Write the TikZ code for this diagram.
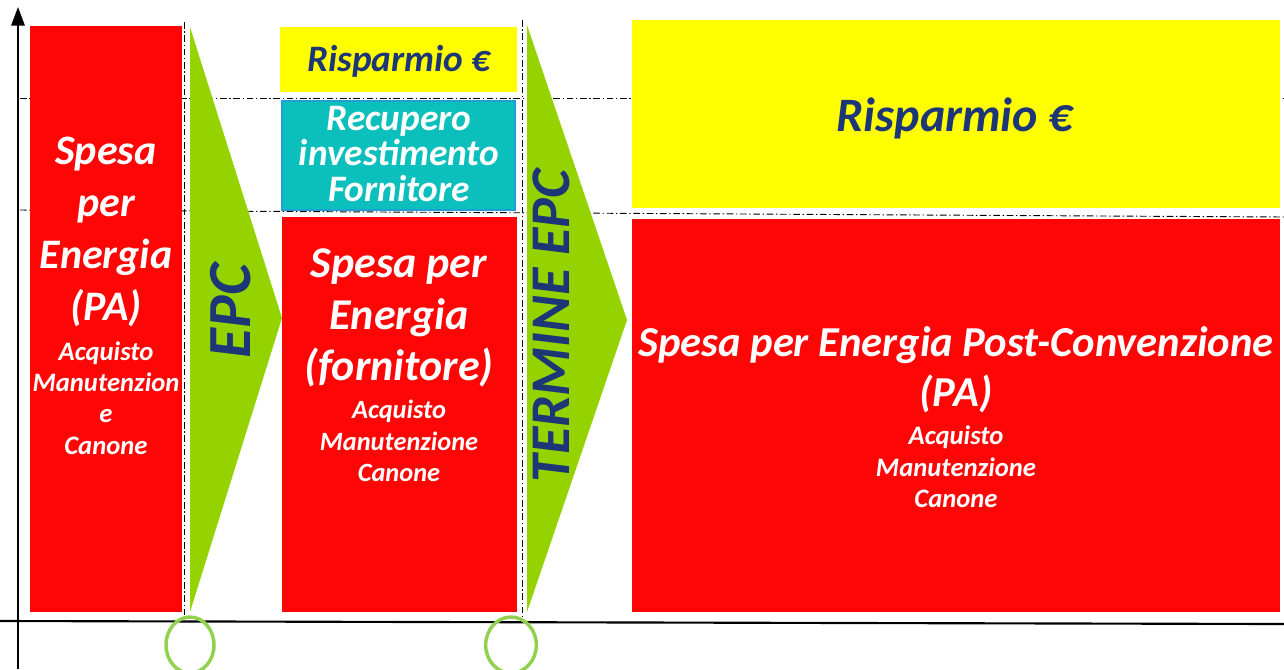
\documentclass[tikz,border=0pt]{standalone}
\usepackage{fontspec}
\setmainfont{Carlito}
\usetikzlibrary{fit,arrows.meta,shapes.geometric}
\definecolor{bred}{RGB}{255,6,6}
\definecolor{byel}{RGB}{255,255,0}
\definecolor{bcyan}{RGB}{11,191,188}
\definecolor{bcyanedge}{RGB}{30,160,215}
\definecolor{bgreen}{RGB}{148,211,0}
\definecolor{navy}{RGB}{28,54,120}
\definecolor{ring}{RGB}{146,208,80}
\tikzset{
  box/.style={inner sep=0pt, outer sep=0pt},
  redbox/.style={box, fill=bred},
  yelbox/.style={box, fill=byel},
  cyanbox/.style={box, fill=bcyan, draw=bcyanedge, line width=1.2pt},
  chev/.style={fill=bgreen},
  dd/.style={black, line width=0.7pt, dash pattern=on 5pt off 2pt on 1pt off 2pt},
  txt/.style={font=\bfseries\itshape, align=center, inner sep=0pt},
  axis/.style={black, line width=1.6pt},
  circ/.style={draw=ring, line width=2.6pt},
}
\begin{document}
\begin{tikzpicture}[x=0.75pt,y=-0.75pt]
\useasboundingbox (0,0) rectangle (1284,669);
% guide lines
\coordinate (g1a) at (20,98); \coordinate (g1b) at (1284,98);
\coordinate (g2a) at (20,210); \coordinate (g2b) at (1284,217);
\draw[dd] (g1a) -- (g1b);
\draw[dd] (g2a) -- (g2b);
\coordinate (v1a) at (184,22); \coordinate (v1b) at (184,621);
\coordinate (v2a) at (522,20); \coordinate (v2b) at (522,621);
\draw[dd] (v1a) -- (v1b);
\draw[dd] (v2a) -- (v2b);
% axes
\coordinate (yb) at (18,669); \coordinate (yt) at (18,7);
\coordinate (xl) at (0,621); \coordinate (xr) at (1284,624);
\draw[axis, -{Triangle[length=14pt,width=10pt]}] (yb) -- (yt);
\draw[axis] (xl) -- (xr);
% boxes
\node[redbox, fit={(30,26)(182,612)}] (r1) {};
\node[yelbox, fit={(280,27)(517,92)}] (y1) {};
\node[cyanbox, fit={(282,101)(515,210)}] (c1) {};
\node[redbox, fit={(282,217)(517,612)}] (r2) {};
\node[yelbox, fit={(632,20)(1280,208)}] (y2) {};
\node[redbox, fit={(632,219)(1280,612)}] (r3) {};
% chevrons
\fill[chev] (190,27) -- (282,318) -- (190,612) -- cycle;
\fill[chev] (527,25) -- (627,320) -- (527,612) -- cycle;
% texts
\node[txt, white, font=\bfseries\itshape\fontsize{31.5}{39}\selectfont] (t1) at (106,232) {Spesa\\per\\Energia\\(PA)};
\node[txt, white, font=\bfseries\itshape\fontsize{20}{23.5}\selectfont] (t1s) at (106,398) {Acquisto\\Manutenzion\\e\\Canone};
\node[txt, navy, rotate=90, font=\bfseries\itshape\fontsize{46}{50}\selectfont] (epc) at (231,311) {EPC};
\node[txt, navy, font=\bfseries\itshape\fontsize{28}{30}\selectfont] (t2) at (399,61) {Risparmio €};
\node[txt, white, font=\bfseries\itshape\fontsize{28}{26.5}\selectfont] (t3) at (399,154) {Recupero\\investimento\\Fornitore};
\node[txt, white, font=\bfseries\itshape\fontsize{33}{38.5}\selectfont] (t4) at (399,318) {Spesa per\\Energia\\(fornitore)};
\node[txt, white, font=\bfseries\itshape\fontsize{19.8}{23.5}\selectfont] (t4s) at (399,441) {Acquisto\\Manutenzione\\Canone};
\node[txt, navy, rotate=90, font=\bfseries\itshape\fontsize{42}{50}\selectfont] (tepc) at (551,326) {TERMINE EPC};
\node[txt, navy, font=\bfseries\itshape\fontsize{36}{40}\selectfont] (t5) at (955,118) {Risparmio €};
\node[txt, white, font=\bfseries\itshape\fontsize{32}{37.5}\selectfont] (t6) at (956,370) {Spesa per Energia Post-Convenzione\\(PA)};
\node[txt, white, font=\bfseries\itshape\fontsize{20}{23.5}\selectfont] (t6s) at (956,467) {Acquisto\\Manutenzione\\Canone};
% rings
\node[circ, ellipse, minimum width=36pt, minimum height=42pt, inner sep=0pt] (o1) at (190,645) {};
\node[circ, ellipse, minimum width=38pt, minimum height=42pt, inner sep=0pt] (o2) at (511,645) {};
\end{tikzpicture}
\end{document}
